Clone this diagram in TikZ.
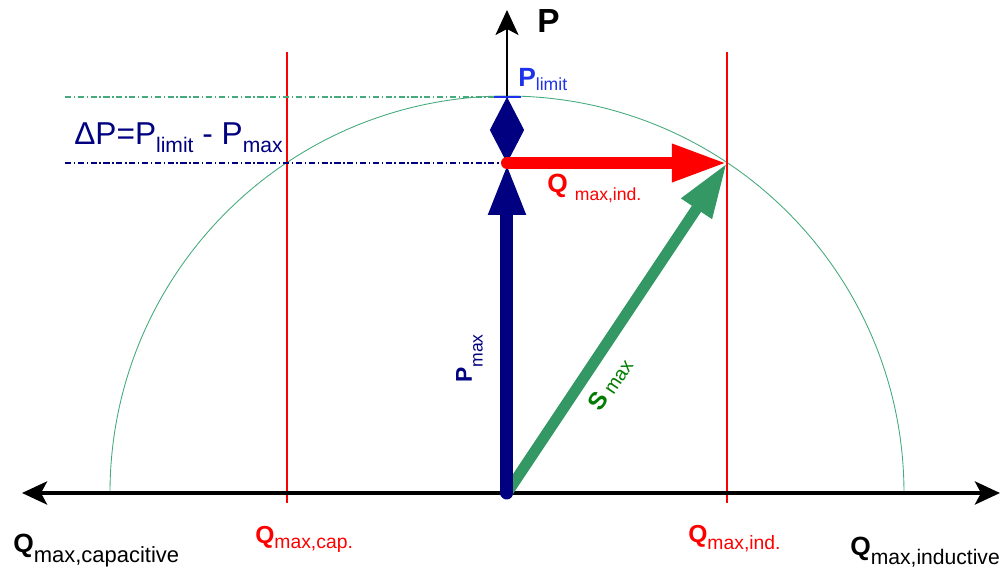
\documentclass[tikz,border=0pt]{standalone}
\usepackage{fontspec}
\setmainfont{Liberation Sans}
\usetikzlibrary{arrows.meta}
\definecolor{navy}{RGB}{0,0,128}
\definecolor{sgreen}{RGB}{52,152,100}
\definecolor{tgreen}{RGB}{0,125,0}
\definecolor{cgreen}{RGB}{70,170,125}
\definecolor{lblue}{RGB}{30,50,235}
\newcommand{\lbl}[5]{{\fontsize{#1}{#1}\selectfont #4}\raisebox{-#3}{\fontsize{#2}{#2}\selectfont #5}}
\tikzset{
  txt/.style={inner sep=0pt},
  dashdot/.style={dash pattern=on 3.5pt off 1.5pt on 0.8pt off 1.5pt},
  axtip/.tip={Stealth[length=0.5cm,width=0.46cm,inset=0.12cm]},
  dtip/.tip={Triangle[length=0.66cm,width=0.68cm]},
}
\begin{document}
\begin{tikzpicture}
    \useasboundingbox (-10.14,-1.54) rectangle (10.0,9.86);
    \coordinate (O) at (0,0);
    \coordinate (Pm) at (0,6.6);
    \coordinate (Pl) at (0,7.92);
    \coordinate (Pt) at (0,9.66);
    \coordinate (K) at (4.4,6.6);
    \coordinate (XL) at (-9.7,0);
    \coordinate (XR) at (9.86,0);
    \coordinate (R) at (7.94,0);
    \coordinate (C1) at (-4.4,-0.2);
    \coordinate (C2) at (-4.4,8.82);
    \coordinate (I1) at (4.4,-0.2);
    \coordinate (I2) at (4.4,8.82);
    \coordinate (D1) at (-8.84,7.92);
    \coordinate (D2) at (-8.84,6.6);
    \coordinate (T1) at (-0.26,7.92);
    \coordinate (T2) at (0.28,7.92);
    \draw[cgreen,line width=0.5pt] (R) arc[start angle=0,end angle=180,radius=7.94];
    \draw[red,line width=0.8pt] (C1)--(C2);
    \draw[red,line width=0.8pt] (I1)--(I2);
    \draw[cgreen,dashdot,line width=0.7pt] (D1)--(Pl);
    \draw[navy,dashdot,line width=1.1pt] (D2)--(Pm);
    \draw[line width=2.3pt,axtip-axtip] (XL)--(XR);
    \draw[line width=1.1pt,-axtip] (Pl)--(Pt);
    \draw[lblue,line width=1.7pt] (T1)--(T2);
    \draw[sgreen,line width=0.22cm,-{Triangle[length=1.1cm,width=0.68cm]}] (O)--(K);
    \draw[navy,line width=0.26cm,line cap=round,-{Triangle[length=1.04cm,width=0.68cm]}] (O)--(Pm);
    \draw[navy,line width=0.6pt,dtip-dtip] (Pm)--(Pl);
    \draw[red,line width=0.24cm,line cap=round,-{Triangle[length=1.1cm,width=0.7cm]}] (Pm)--(K);
    \node[txt,anchor=base west] (Plab) at (0.6,9.2) {\fontsize{19}{19}\selectfont\bfseries P};
    \node[txt,anchor=base west,text=lblue] (Llab) at (0.22,8.12) {\lbl{15}{10}{2pt}{\bfseries P}{limit}};
    \node[txt,anchor=base east,text=navy] (dP) at (-4.48,6.96) {\lbl{18}{12}{4.5pt}{ΔP=P}{limit}\lbl{18}{12}{4.5pt}{\ -\ P}{max}};
    \node[txt,anchor=base west,text=red] (Qa) at (0.8,6.0) {\lbl{15}{10}{4pt}{\bfseries Q\hspace{4pt}}{max,ind.}};
    \node[txt,anchor=base west,rotate=90,text=navy] (Pmlab) at (-0.7,2.2) {\lbl{13}{10}{6pt}{\bfseries P}{max}};
    \node[txt,anchor=base west,rotate=56.3,text=tgreen] (Smlab) at (1.86,1.6) {\lbl{14}{11}{1pt}{\bfseries S\hspace{3pt}}{max}};
    \node[txt,anchor=base west] (Qc) at (-9.88,-1.2) {\lbl{15}{12.5}{5.5pt}{\bfseries Q}{max,capacitive}};
    \node[txt,anchor=base west] (Qi) at (6.86,-1.24) {\lbl{15}{12}{5.5pt}{\bfseries Q}{max,inductive}};
    \node[txt,anchor=base west,text=red] (Qcr) at (-5.04,-1.0) {\lbl{14}{11}{3pt}{\bfseries Q}{max,cap.}};
    \node[txt,anchor=base west,text=red] (Qir) at (3.62,-0.98) {\lbl{14}{11}{4.5pt}{\bfseries Q}{max,ind.}};
\end{tikzpicture}
\end{document}
